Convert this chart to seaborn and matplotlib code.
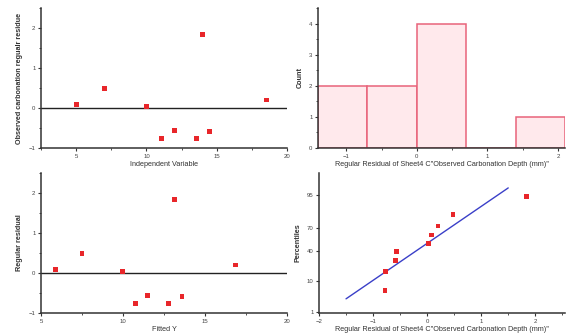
import numpy as np
import pandas as pd
import matplotlib
matplotlib.use("Agg")
import matplotlib.pyplot as plt
from matplotlib.ticker import MultipleLocator, FixedLocator, NullLocator
import seaborn as sns
from statistics import NormalDist

# ---- data ----
indep = [5.0, 7.0, 10.0, 11.05, 12.0, 13.55, 14.0, 14.5, 18.55]
resid = [0.08, 0.48, 0.04, -0.76, -0.56, -0.77, 1.84, -0.58, 0.20]
fitted = [5.9, 7.5, 9.95, 10.75, 11.5, 12.75, 13.15, 13.6, 16.85]

hist_edges = [-1.4, -0.7, 0.0, 0.7, 1.4, 2.1]

sorted_resid = [-0.78, -0.77, -0.58, -0.57, 0.03, 0.08, 0.20, 0.48, 1.84]
percentiles = [5.6, 16.7, 27.8, 38.9, 50.0, 61.1, 72.2, 83.3, 94.4]
line_x = [-1.5, 1.5]
line_pct = [3.0, 97.0]
prob_ticks = [1, 10, 40, 70, 95]

xlabel_tl = "Independent Variable"
ylabel_tl = "Observed carbonation regualr residue"
xlabel_res = "Regular Residual of Sheet4 C\"Observed Carbonation Depth (mm)\""
ylabel_hist = "Count"
xlabel_bl = "Fitted Y"
ylabel_bl = "Regular residual"
ylabel_br = "Percentiles"

# ---- style ----
sns.set_theme(style="ticks")
plt.rcParams['font.family'] = ['Liberation Sans', 'DejaVu Sans']
plt.rcParams['axes.linewidth'] = 1.1
plt.rcParams['xtick.major.width'] = 0.8
plt.rcParams['ytick.major.width'] = 0.8
plt.rcParams['xtick.minor.width'] = 0.6
plt.rcParams['ytick.minor.width'] = 0.6
plt.rcParams['xtick.major.size'] = 2.5
plt.rcParams['ytick.major.size'] = 2.5
plt.rcParams['xtick.minor.size'] = 1.5
plt.rcParams['ytick.minor.size'] = 1.5

W, H = 566, 336
fig = plt.figure(figsize=(W / 100, H / 100), dpi=100)

def rect(l, t, r, b):
    return [l / W, 1 - b / H, (r - l) / W, (b - t) / H]

ax_tl = fig.add_axes(rect(41, 8, 287, 148))
ax_tr = fig.add_axes(rect(318, 8, 565, 148))
ax_bl = fig.add_axes(rect(41, 173, 287, 313))
ax_br = fig.add_axes(rect(319, 173, 565, 313))

red = "#e8262a"
tick_fs = 4.3
lab_fs = 5.2
spine_col = "#333333"
msize = 12

def style(ax):
    for s in ["top", "right"]:
        ax.spines[s].set_visible(False)
    for s in ["left", "bottom"]:
        ax.spines[s].set_color(spine_col)
    ax.tick_params(axis="both", which="both", labelsize=tick_fs, colors=spine_col,
                   labelcolor="#444444", pad=1.5)

def ylab(ax, text):
    ax.set_ylabel(text, fontsize=lab_fs, labelpad=4, color="#333333",
                  fontweight="bold")

# ---- top-left ----
df1 = pd.DataFrame({"x": indep, "y": resid})
sns.scatterplot(data=df1, x="x", y="y", ax=ax_tl, color=red, s=msize, marker="s",
                edgecolor="none", zorder=3)
ax_tl.axhline(0, color="#222222", lw=1.0, zorder=2)
ax_tl.set_xlim(2.5, 20)
ax_tl.set_ylim(-1, 2.5)
ax_tl.xaxis.set_major_locator(MultipleLocator(5))
ax_tl.xaxis.set_minor_locator(MultipleLocator(2.5))
ax_tl.yaxis.set_major_locator(MultipleLocator(1))
ax_tl.yaxis.set_minor_locator(MultipleLocator(0.5))
ax_tl.set_xlabel(xlabel_tl, fontsize=lab_fs, labelpad=2, color="#333333")
ylab(ax_tl, ylabel_tl)
style(ax_tl)

# ---- top-right histogram ----
df2 = pd.DataFrame({"r": resid})
sns.histplot(data=df2, x="r", bins=hist_edges, ax=ax_tr, stat="count",
             color="#ffe9ec", edgecolor="#e8637a", linewidth=1.1, alpha=1)
ax_tr.set_xlim(hist_edges[0], hist_edges[-1])
ax_tr.set_ylim(0, 4.5)
ax_tr.xaxis.set_major_locator(MultipleLocator(1))
ax_tr.xaxis.set_minor_locator(MultipleLocator(0.5))
ax_tr.yaxis.set_major_locator(MultipleLocator(1))
ax_tr.yaxis.set_minor_locator(MultipleLocator(0.5))
ax_tr.set_xlabel(xlabel_res, fontsize=lab_fs, labelpad=2, color="#333333")
ylab(ax_tr, ylabel_hist)
style(ax_tr)

# ---- bottom-left ----
df3 = pd.DataFrame({"x": fitted, "y": resid})
sns.scatterplot(data=df3, x="x", y="y", ax=ax_bl, color=red, s=msize, marker="s",
                edgecolor="none", zorder=3)
ax_bl.axhline(0, color="#222222", lw=1.0, zorder=2)
ax_bl.set_xlim(5, 20)
ax_bl.set_ylim(-1, 2.5)
ax_bl.xaxis.set_major_locator(MultipleLocator(5))
ax_bl.xaxis.set_minor_locator(MultipleLocator(2.5))
ax_bl.yaxis.set_major_locator(MultipleLocator(1))
ax_bl.yaxis.set_minor_locator(MultipleLocator(0.5))
ax_bl.set_xlabel(xlabel_bl, fontsize=lab_fs, labelpad=2, color="#333333")
ylab(ax_bl, ylabel_bl)
style(ax_bl)

# ---- bottom-right probability plot (probit y) ----
nd = NormalDist()
z = lambda p: nd.inv_cdf(p / 100.0)
df4 = pd.DataFrame({"x": sorted_resid, "z": [z(p) for p in percentiles]})
dl = pd.DataFrame({"x": line_x, "z": [z(p) for p in line_pct]})
sns.lineplot(data=dl, x="x", y="z", ax=ax_br, color="#3a3fc8", lw=1.0, zorder=2)
sns.scatterplot(data=df4, x="x", y="z", ax=ax_br, color=red, s=msize, marker="s",
                edgecolor="none", zorder=3)
ax_br.set_xlim(-2, 2.55)
ax_br.set_ylim(z(0.91), z(99.15))
ax_br.xaxis.set_major_locator(MultipleLocator(1))
ax_br.xaxis.set_minor_locator(MultipleLocator(0.5))
ax_br.yaxis.set_major_locator(FixedLocator([z(p) for p in prob_ticks]))
ax_br.set_yticklabels([str(p) for p in prob_ticks])
ax_br.yaxis.set_minor_locator(NullLocator())
ax_br.set_xlabel(xlabel_res, fontsize=lab_fs, labelpad=2, color="#333333")
ylab(ax_br, ylabel_br)
style(ax_br)

fig.savefig("out.png", dpi=100)
